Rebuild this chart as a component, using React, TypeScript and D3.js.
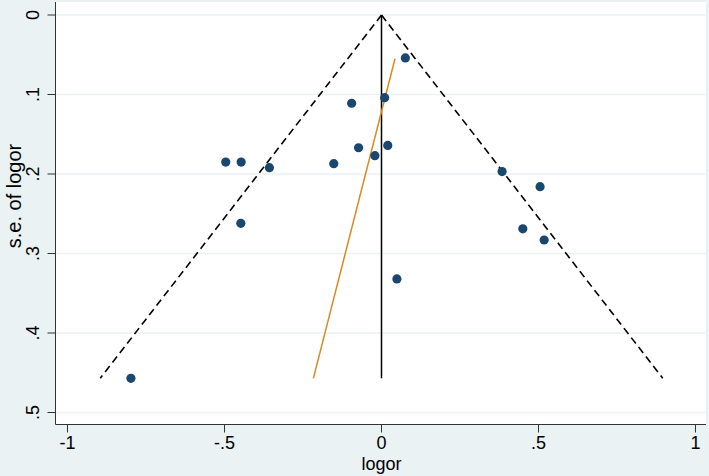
import React from "react";
import * as d3 from "d3";

const logor = [0.076, 0.01, -0.095, -0.496, -0.447, -0.357, -0.152, -0.073, -0.021, 0.02, 0.384, 0.505, -0.448, 0.45, 0.518, 0.049, -0.798];
const seLogor = [0.054, 0.104, 0.111, 0.185, 0.185, 0.192, 0.187, 0.167, 0.177, 0.164, 0.197, 0.216, 0.262, 0.269, 0.283, 0.332, 0.457];
const eggerLogor = [-0.217, 0.043];
const eggerSe = [0.457, 0.055];
const xTicks = [-1, -0.5, 0, 0.5, 1];
const xTickLabels = ["-1", "-.5", "0", ".5", "1"];
const yTicks = [0, 0.1, 0.2, 0.3, 0.4, 0.5];
const yTickLabels = ["0", ".1", ".2", ".3", ".4", ".5"];
const zCrit = 1.96;

const W = 709;
const H = 476;
const plotL = 55.5;
const plotR = 706;
const plotT = 2;
const plotB = 424.5;
const bg = "#eaf2f3";
const font = "'Liberation Sans', Arial, Helvetica, sans-serif";

export default function App() {
  const x = d3.scaleLinear().domain([-1, 1]).range([67.5, 695.5]);
  const y = d3.scaleLinear().domain([0, 0.5]).range([15, 412.5]);
  const seMax = d3.max(seLogor) as number;
  const line = d3
    .line<[number, number]>()
    .x((d) => x(d[0]))
    .y((d) => y(d[1]));
  const leftFunnel: [number, number][] = [
    [0, 0],
    [-zCrit * seMax, seMax],
  ];
  const rightFunnel: [number, number][] = [
    [0, 0],
    [zCrit * seMax, seMax],
  ];
  const egger: [number, number][] = eggerLogor.map((v, i) => [v, eggerSe[i]]);

  return (
    <div style={{ position: "absolute", left: 0, top: 0 }}>
      <svg width={W} height={H} style={{ display: "block" }} fontFamily={font}>
        <rect x={0} y={0} width={W} height={H} fill={bg} />
        <rect x={plotL} y={plotT} width={plotR - plotL} height={plotB - plotT} fill="#ffffff" />
        {yTicks.map((t) => (
          <line key={"g" + t} x1={plotL} x2={plotR} y1={y(t)} y2={y(t)} stroke={bg} strokeWidth={1.5} />
        ))}
        <path d={line(leftFunnel) || ""} fill="none" stroke="#000" strokeWidth={1.6} strokeDasharray="7.5,4.5" />
        <path d={line(rightFunnel) || ""} fill="none" stroke="#000" strokeWidth={1.6} strokeDasharray="7.5,4.5" />
        <line x1={x(0)} x2={x(0)} y1={y(0)} y2={y(seMax)} stroke="#000" strokeWidth={1.5} />
        <path d={line(egger) || ""} fill="none" stroke="#d88a22" strokeWidth={1.5} />
        {logor.map((v, i) => (
          <circle key={i} cx={x(v)} cy={y(seLogor[i])} r={4.6} fill="#1a476f" />
        ))}
        <line x1={plotL} x2={plotL} y1={plotT} y2={plotB} stroke="#333" strokeWidth={1} />
        <line x1={plotL} x2={plotR} y1={plotB} y2={plotB} stroke="#333" strokeWidth={1} />
        {yTicks.map((t, i) => (
          <g key={"y" + t}>
            <line x1={plotL - 8} x2={plotL} y1={y(t)} y2={y(t)} stroke="#333" strokeWidth={1} />
            <text
              transform={`translate(39,${y(t)}) rotate(-90)`}
              textAnchor="middle"
              fontSize={18}
              fill="#000"
            >
              {yTickLabels[i]}
            </text>
          </g>
        ))}
        {xTicks.map((t, i) => (
          <g key={"x" + t}>
            <line x1={x(t)} x2={x(t)} y1={plotB} y2={plotB + 8} stroke="#333" strokeWidth={1} />
            <text x={x(t)} y={449} textAnchor="middle" fontSize={18} fill="#000">
              {xTickLabels[i]}
            </text>
          </g>
        ))}
        <text x={x(0)} y={470} textAnchor="middle" fontSize={18} fill="#000">
          logor
        </text>
        <text
          transform={`translate(21,196) rotate(-90)`}
          textAnchor="middle"
          fontSize={20}
          fill="#000"
        >
          s.e. of logor
        </text>
      </svg>
    </div>
  );
}
